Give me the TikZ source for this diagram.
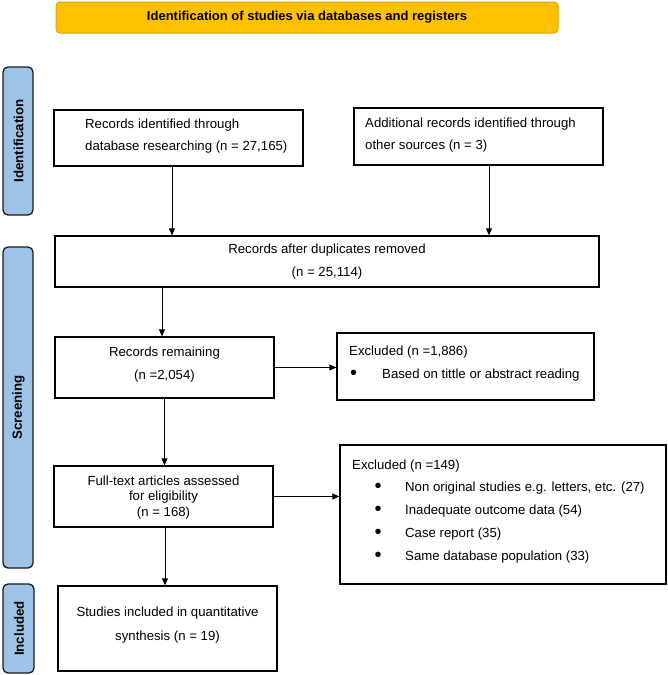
\documentclass[tikz,border=0pt]{standalone}
\usepackage{fontspec}
\setmainfont{Liberation Sans}
\usetikzlibrary{arrows.meta,calc}
\definecolor{bannerfill}{HTML}{FFC000}
\definecolor{bannerline}{HTML}{D9A300}
\definecolor{sidefill}{HTML}{9DC3E6}
\definecolor{sideline}{HTML}{1A1A1A}
\begin{document}
\begin{tikzpicture}[x=1pt,y=-1pt,
  box/.style={draw=black,line width=1.3pt,inner sep=0pt},
  txt/.style={inner sep=0pt,align=center},
  ltxt/.style={inner sep=0pt,align=left,anchor=west},
  fnt/.style={font=\fontsize{13.2}{#1}\selectfont},
  bul/.style={inner sep=0pt,font=\fontsize{20}{20}\selectfont},
  arr/.style={line width=0.8pt,-{Triangle[length=7pt,width=6pt]}},
  sidebar/.style={draw=sideline,fill=sidefill,line width=1.3pt,rounded corners=5pt,inner sep=0pt},
  sidetxt/.style={font=\bfseries\fontsize{13.3}{15}\selectfont,rotate=90,inner sep=0pt}]
\useasboundingbox (0,0) rectangle (668,675);

% banner
\node[draw=bannerline,fill=bannerfill,line width=1pt,rounded corners=4pt,
      minimum width=502pt,minimum height=31pt,inner sep=0pt,
      font=\bfseries\fontsize{13}{15}\selectfont] (banner) at (307,17.5)
      {Identification of studies via databases and registers};

% side bars
\node[sidebar,minimum width=30pt,minimum height=148pt] (sbid) at (18,141) {};
\node[sidetxt] (sbidt) at (18.5,141) {Identification};
\node[sidebar,minimum width=30pt,minimum height=321pt] (sbsc) at (18,407.5) {};
\node[sidetxt] (sbsct) at (18.5,407.5) {Screening};
\node[sidebar,minimum width=31pt,minimum height=89pt] (sbin) at (18.5,628.5) {};
\node[sidetxt] (sbint) at (19,628.5) {Included};

% boxes
\node[box,minimum width=249pt,minimum height=56pt] (b1) at (178.5,138) {};
\node[ltxt,fnt=22] (b1t) at (85,136) {Records identified through\\database researching (n = 27,165)};

\node[box,minimum width=249pt,minimum height=57pt] (b2) at (478.5,136.5) {};
\node[ltxt,fnt=22] (b2t) at (365,135) {Additional records identified through\\other sources (n = 3)};

\node[box,minimum width=544pt,minimum height=51pt] (dup) at (327,261.5) {};
\node[txt,fnt=23] (dupt) at (327,261.5) {Records after duplicates removed\\(n = 25,114)};

\node[box,minimum width=219pt,minimum height=61pt] (rem) at (164.5,367.5) {};
\node[txt,fnt=23] (remt) at (164.5,364.5) {Records remaining\\(n =2,054)};

\node[box,minimum width=257pt,minimum height=67pt] (ex1) at (465.5,366.5) {};
\node[ltxt,fnt=16] (ex1t) at (349,352) {Excluded (n =1,886)};
\node[bul] (ex1b) at (353.5,375) {•};
\node[ltxt,fnt=16] (ex1a) at (382,375) {Based on tittle or abstract reading};

\node[box,minimum width=219pt,minimum height=61pt] (full) at (163.5,496.5) {};
\node[txt,fnt=15.5] (fullt) at (163.5,497.5) {Full-text articles assessed\\for eligibility\\(n = 168)};

\node[box,minimum width=326pt,minimum height=139pt] (ex2) at (503,514.5) {};
\node[ltxt,fnt=16] (ex2t) at (352,466) {Excluded (n =149)};
\node[bul] (ex2b1) at (378,488) {•};
\node[bul] (ex2b2) at (378,511) {•};
\node[bul] (ex2b3) at (378,534) {•};
\node[bul] (ex2b4) at (378,557) {•};
\node[ltxt,fnt=16] (ex2a) at (405,488) {Non original studies e.g. letters, etc. (27)};
\node[ltxt,fnt=16] (ex2c) at (405,511) {Inadequate outcome data (54)};
\node[ltxt,fnt=16] (ex2d) at (405,534) {Case report (35)};
\node[ltxt,fnt=16] (ex2e) at (405,557) {Same database population (33)};

\node[box,minimum width=219pt,minimum height=85pt] (stud) at (167.5,628.5) {};
\node[txt,fnt=24] (studt) at (167.5,625) {Studies included in quantitative\\synthesis (n = 19)};

% connectors
\draw[arr] ([xshift=-6.5pt]b1.south) -- ([xshift=-6.5pt]b1.south |- dup.north);
\draw[arr] ([xshift=10.5pt]b2.south) -- ([xshift=10.5pt]b2.south |- dup.north);
\draw[arr] ([xshift=-2.5pt]rem.north |- dup.south) -- ([xshift=-2.5pt]rem.north);
\draw[arr] (rem.east) -- (rem.east -| ex1.west);
\draw[arr] (rem.south) -- (rem.south |- full.north);
\draw[arr] (full.east) -- (full.east -| ex2.west);
\draw[arr] ([xshift=1.5pt]full.south) -- ([xshift=1.5pt]full.south |- stud.north);
\end{tikzpicture}
\end{document}
